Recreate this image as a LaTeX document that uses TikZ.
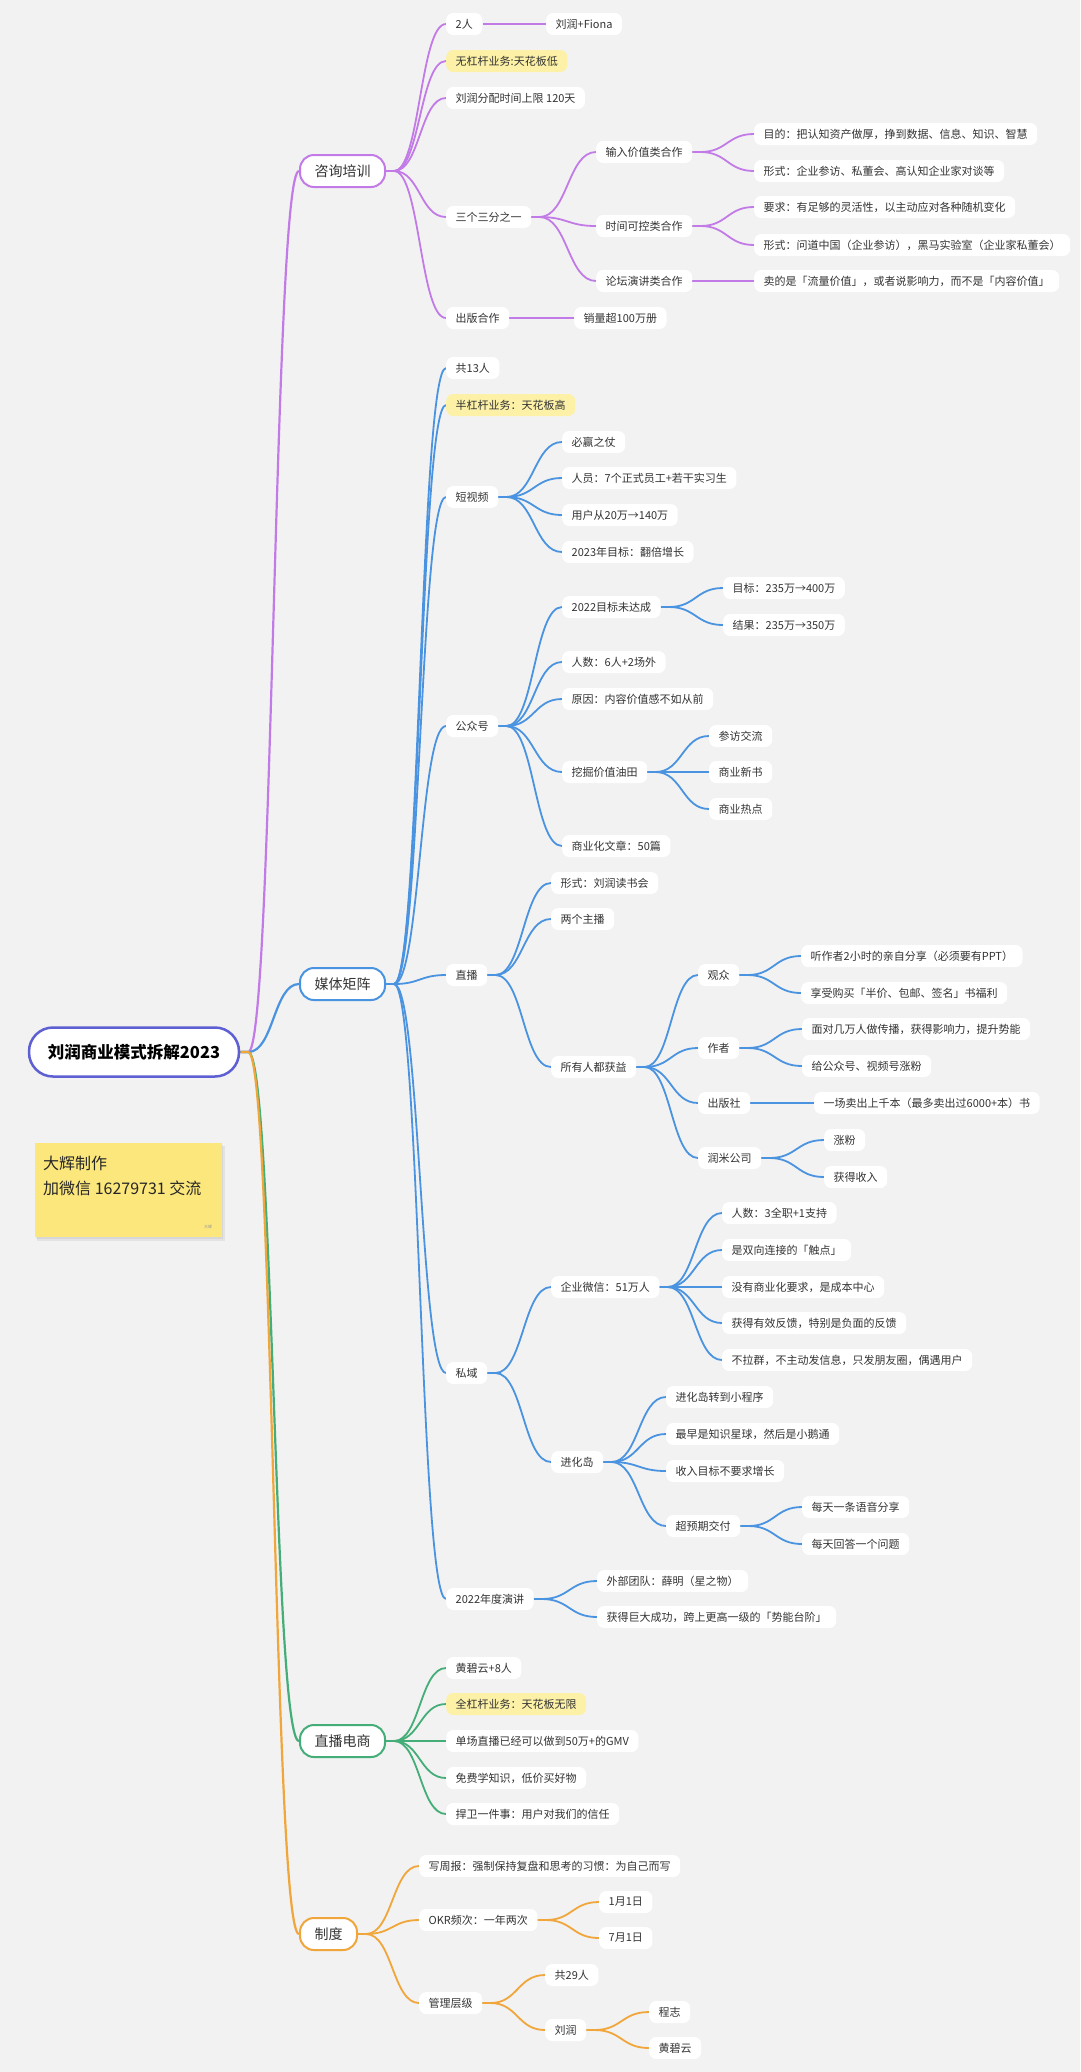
\documentclass[tikz,border=0pt]{standalone}
\usepackage{fontspec}
\setmainfont{Noto Sans CJK SC}
\usetikzlibrary{calc}
\definecolor{bgc}{HTML}{F2F2F2}
\definecolor{cpur}{HTML}{C27BE6}
\definecolor{cblu}{HTML}{4A93E0}
\definecolor{cgrn}{HTML}{44AD78}
\definecolor{corg}{HTML}{F0A63A}
\definecolor{croot}{HTML}{5D5FD3}
\definecolor{hl}{HTML}{FCF1A6}
\definecolor{sticky}{HTML}{FCE77C}
\definecolor{txt}{HTML}{333333}
\pgfdeclarelayer{back}
\pgfdeclarelayer{bg}
\pgfsetlayers{back,bg,main}
\tikzset{
  leaf/.style={fill=white, rounded corners=7pt, anchor=west, inner xsep=9.5pt, inner ysep=0pt, minimum height=22pt, text=txt, font=\fontsize{11}{13}\selectfont},
  hleaf/.style={leaf, fill=hl},
  branch/.style={fill=white, line width=2pt, rounded corners=14pt, anchor=west, inner xsep=14.5pt, inner ysep=0pt, minimum height=32pt, text=txt, font=\fontsize{14}{16}\selectfont},
  rootbox/.style={fill=white, draw=croot, line width=2.5pt, rounded corners=24pt, minimum width=210pt, minimum height=49pt, inner sep=0pt, font=\fontsize{16.5}{18}\selectfont\bfseries},
  pur/.style={draw=cpur, line width=1.8pt},
  blu/.style={draw=cblu, line width=1.8pt},
  grn/.style={draw=cgrn, line width=1.8pt},
  org/.style={draw=corg, line width=1.8pt},
}
\newcommand{\lk}[3]{\draw[#1] let \p1=($(#2.east)+(8pt,0pt)$), \p2=(#3.west) in (#2.east) -- (\p1) .. controls ({0.5*\x1+0.5*\x2},\y1) and ({0.5*\x1+0.5*\x2},\y2) .. (\p2);}
\begin{document}
\begin{tikzpicture}[x=1pt,y=-1pt]
\begin{pgfonlayer}{back}
\fill[bgc] (0,0) rectangle (1080,2072);
\end{pgfonlayer}
\useasboundingbox (0,0) rectangle (1080,2072);

% root
\node[rootbox] (root) at (134,1052) {刘润商业模式拆解2023};

% sticky note
\fill[black, opacity=0.06] (37,1146) rectangle (225,1241);
\fill[black, opacity=0.05] (36,1145) rectangle (223,1239);
\fill[sticky] (35,1143) rectangle (222,1237);
\node[anchor=west, inner sep=0pt, text=black!85, font=\fontsize{16}{18}\selectfont] (s1) at (43,1163) {大辉制作};
\node[anchor=west, inner sep=0pt, text=black!85, font=\fontsize{16}{18}\selectfont] (s2) at (43,1188) {加微信 16279731 交流};
\node[inner sep=0pt, text=black!40, font=\fontsize{4}{5}\selectfont] (s3) at (208,1227) {大辉};

% main branches
\node[branch, draw=cpur] (zx) at (299,171) {咨询培训};
\node[branch, draw=cblu] (mt) at (299,984) {媒体矩阵};
\node[branch, draw=cgrn] (zb) at (299,1741) {直播电商};
\node[branch, draw=corg] (zd) at (299,1934) {制度};

% purple
\node[leaf] (p1) at (446,24) {2人};
\node[leaf] (p1a) at (546,24) {刘润+Fiona};
\node[hleaf] (p2) at (446,61) {无杠杆业务:天花板低};
\node[leaf] (p3) at (446,98) {刘润分配时间上限 120天};
\node[leaf] (p4) at (446,217) {三个三分之一};
\node[leaf] (p41) at (596,152) {输入价值类合作};
\node[leaf] (p411) at (754,134) {目的：把认知资产做厚，挣到数据、信息、知识、智慧};
\node[leaf] (p412) at (754,171) {形式：企业参访、私董会、高认知企业家对谈等};
\node[leaf] (p42) at (596,226) {时间可控类合作};
\node[leaf] (p421) at (754,207) {要求：有足够的灵活性，以主动应对各种随机变化};
\node[leaf] (p422) at (754,245) {形式：问道中国（企业参访），黑马实验室（企业家私董会）};
\node[leaf] (p43) at (596,281) {论坛演讲类合作};
\node[leaf] (p431) at (754,281) {卖的是「流量价值」，或者说影响力，而不是「内容价值」};
\node[leaf] (p5) at (446,318) {出版合作};
\node[leaf] (p51) at (574,318) {销量超100万册};

% blue
\node[leaf] (b1) at (446,368) {共13人};
\node[hleaf] (b2) at (446,405) {半杠杆业务：天花板高};
\node[leaf] (b3) at (446,497) {短视频};
\node[leaf] (b31) at (562,442) {必赢之仗};
\node[leaf] (b32) at (562,478) {人员：7个正式员工+若干实习生};
\node[leaf] (b33) at (562,515) {用户从20万→140万};
\node[leaf] (b34) at (562,552) {2023年目标：翻倍增长};
\node[leaf] (b4) at (446,726) {公众号};
\node[leaf] (b41) at (562,607) {2022目标未达成};
\node[leaf] (b411) at (723,588) {目标：235万→400万};
\node[leaf] (b412) at (723,625) {结果：235万→350万};
\node[leaf] (b42) at (562,662) {人数：6人+2场外};
\node[leaf] (b43) at (562,699) {原因：内容价值感不如从前};
\node[leaf] (b44) at (562,772) {挖掘价值油田};
\node[leaf] (b441) at (709,736) {参访交流};
\node[leaf] (b442) at (709,772) {商业新书};
\node[leaf] (b443) at (709,809) {商业热点};
\node[leaf] (b45) at (562,846) {商业化文章：50篇};
\node[leaf] (b5) at (446,975) {直播};
\node[leaf] (b51) at (551,883) {形式：刘润读书会};
\node[leaf] (b52) at (551,919) {两个主播};
\node[leaf] (b53) at (551,1067) {所有人都获益};
\node[leaf] (b531) at (698,975) {观众};
\node[leaf] (b5311) at (801,956) {听作者2小时的亲自分享（必须要有PPT）};
\node[leaf] (b5312) at (801,993) {享受购买「半价、包邮、签名」书福利};
\node[leaf] (b532) at (698,1048) {作者};
\node[leaf] (b5321) at (802,1029) {面对几万人做传播，获得影响力，提升势能};
\node[leaf] (b5322) at (802,1066) {给公众号、视频号涨粉};
\node[leaf] (b533) at (698,1103) {出版社};
\node[leaf] (b5331) at (814,1103) {一场卖出上千本（最多卖出过6000+本）书};
\node[leaf] (b534) at (698,1158) {润米公司};
\node[leaf] (b5341) at (824,1140) {涨粉};
\node[leaf] (b5342) at (824,1177) {获得收入};
\node[leaf] (b6) at (446,1373) {私域};
\node[leaf] (b61) at (551,1287) {企业微信：51万人};
\node[leaf] (b611) at (722,1213) {人数：3全职+1支持};
\node[leaf] (b612) at (722,1250) {是双向连接的「触点」};
\node[leaf] (b613) at (722,1287) {没有商业化要求，是成本中心};
\node[leaf] (b614) at (722,1323) {获得有效反馈，特别是负面的反馈};
\node[leaf] (b615) at (722,1360) {不拉群，不主动发信息，只发朋友圈，偶遇用户};
\node[leaf] (b62) at (551,1462) {进化岛};
\node[leaf] (b621) at (666,1397) {进化岛转到小程序};
\node[leaf] (b622) at (666,1434) {最早是知识星球，然后是小鹅通};
\node[leaf] (b623) at (666,1471) {收入目标不要求增长};
\node[leaf] (b624) at (666,1526) {超预期交付};
\node[leaf] (b6241) at (802,1507) {每天一条语音分享};
\node[leaf] (b6242) at (802,1544) {每天回答一个问题};
\node[leaf] (b7) at (446,1599) {2022年度演讲};
\node[leaf] (b71) at (597,1581) {外部团队：薛明（星之物）};
\node[leaf] (b72) at (597,1617) {获得巨大成功，跨上更高一级的「势能台阶」};

% green
\node[leaf] (g1) at (446,1668) {黄碧云+8人};
\node[hleaf] (g2) at (446,1704) {全杠杆业务：天花板无限};
\node[leaf] (g3) at (446,1741) {单场直播已经可以做到50万+的GMV};
\node[leaf] (g4) at (446,1778) {免费学知识，低价买好物};
\node[leaf] (g5) at (446,1814) {捍卫一件事：用户对我们的信任};

% orange
\node[leaf] (o1) at (419,1866) {写周报：强制保持复盘和思考的习惯：为自己而写};
\node[leaf] (o2) at (419,1920) {OKR频次：一年两次};
\node[leaf] (o21) at (599,1902) {1月1日};
\node[leaf] (o22) at (599,1938) {7月1日};
\node[leaf] (o3) at (419,2003) {管理层级};
\node[leaf] (o31) at (545,1975) {共29人};
\node[leaf] (o32) at (545,2030) {刘润};
\node[leaf] (o321) at (649,2012) {程志};
\node[leaf] (o322) at (649,2048) {黄碧云};

\begin{pgfonlayer}{bg}
\lk{pur, line width=2.2pt}{root}{zx}
\lk{blu, line width=2.2pt}{root}{mt}
\lk{grn, line width=2.2pt}{root}{zb}
\lk{org, line width=2.2pt}{root}{zd}
% purple
\foreach \c in {p1,p2,p3,p4,p5} {\lk{pur}{zx}{\c}}
\lk{pur}{p1}{p1a}
\foreach \c in {p41,p42,p43} {\lk{pur}{p4}{\c}}
\lk{pur}{p41}{p411}
\lk{pur}{p41}{p412}
\lk{pur}{p42}{p421}
\lk{pur}{p42}{p422}
\lk{pur}{p43}{p431}
\lk{pur}{p5}{p51}
% blue
\foreach \c in {b1,b2,b3,b4,b5,b6,b7} {\lk{blu}{mt}{\c}}
\foreach \c in {b31,b32,b33,b34} {\lk{blu}{b3}{\c}}
\foreach \c in {b41,b42,b43,b44,b45} {\lk{blu}{b4}{\c}}
\lk{blu}{b41}{b411}
\lk{blu}{b41}{b412}
\foreach \c in {b441,b442,b443} {\lk{blu}{b44}{\c}}
\foreach \c in {b51,b52,b53} {\lk{blu}{b5}{\c}}
\foreach \c in {b531,b532,b533,b534} {\lk{blu}{b53}{\c}}
\lk{blu}{b531}{b5311}
\lk{blu}{b531}{b5312}
\lk{blu}{b532}{b5321}
\lk{blu}{b532}{b5322}
\lk{blu}{b533}{b5331}
\lk{blu}{b534}{b5341}
\lk{blu}{b534}{b5342}
\lk{blu}{b6}{b61}
\lk{blu}{b6}{b62}
\foreach \c in {b611,b612,b613,b614,b615} {\lk{blu}{b61}{\c}}
\foreach \c in {b621,b622,b623,b624} {\lk{blu}{b62}{\c}}
\lk{blu}{b624}{b6241}
\lk{blu}{b624}{b6242}
\lk{blu}{b7}{b71}
\lk{blu}{b7}{b72}
% green
\foreach \c in {g1,g2,g3,g4,g5} {\lk{grn}{zb}{\c}}
% orange
\foreach \c in {o1,o2,o3} {\lk{org}{zd}{\c}}
\lk{org}{o2}{o21}
\lk{org}{o2}{o22}
\lk{org}{o3}{o31}
\lk{org}{o3}{o32}
\lk{org}{o32}{o321}
\lk{org}{o32}{o322}
\end{pgfonlayer}
\end{tikzpicture}
\end{document}
